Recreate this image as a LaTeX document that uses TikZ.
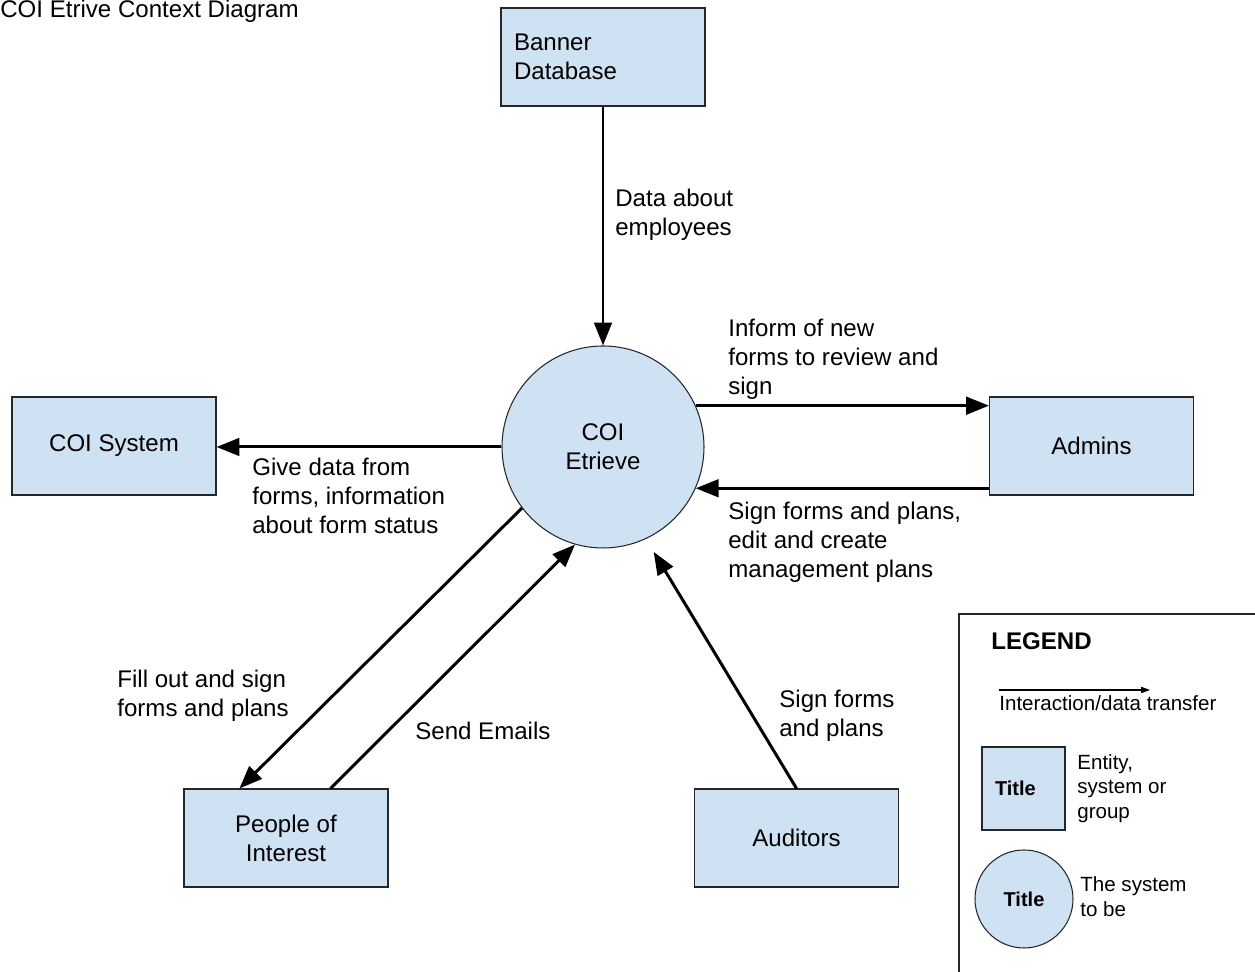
\documentclass[tikz,border=0pt]{standalone}
\usepackage{fontspec}
\setmainfont{Liberation Sans}
\usetikzlibrary{arrows.meta,calc}

\definecolor{boxblue}{HTML}{CFE2F3}

\begin{document}
\begin{tikzpicture}[>={Triangle[length=13pt,width=10pt]},
    font=\fontsize{13.7}{16.5}\selectfont,
    ent/.style={draw=black!85, line width=0.6pt, fill=boxblue, minimum width=4.08cm, minimum height=1.96cm, align=center},
    sys/.style={circle, draw=black!85, line width=0.6pt, fill=boxblue, minimum size=4.04cm, align=center, inner sep=0pt},
    flow/.style={->, line width=1.7pt},
    lbl/.style={anchor=west, align=left, inner sep=0pt},
    legtext/.style={lbl, font=\fontsize{11.7}{14}\selectfont}]
    \useasboundingbox (0, 0) rectangle (25.1, 19.44);

    % 标题
    \node[anchor=base west, inner sep=0pt] (title) at (0, 19.08) {COI Etrive Context Diagram};

    % 系统及外部实体
    \node[sys] (ce) at (12.06, 10.50) {COI\\Etrieve};
    \node[ent, text width=3.56cm, inner xsep=0.26cm, align=left] (bd) at (12.06, 18.30) {Banner\\Database};
    \node[ent] (cs) at (2.28, 10.52) {COI System};
    \node[ent] (ad) at (21.83, 10.52) {Admins};
    \node[ent] (pi) at (5.72, 2.68) {People of\\Interest};
    \node[ent] (au) at (15.93, 2.68) {Auditors};

    % 数据流
    \draw[flow] (bd.south) -- (ce.north);
    \draw[flow] (ce.24.6) -- (ce.24.6 -| ad.west);
    \draw[flow] (ad.west |- ce.-24) -- (ce.-24);
    \draw[flow] (ce.west) -- (ce.west -| cs.east);
    \draw[flow] (ce.217) -- ([xshift=1.12cm]pi.north west);
    \draw[flow] ([xshift=2.94cm]pi.north west) -- (ce.254);
    \draw[flow, shorten >=0.3cm] (au.north) -- (ce.295);

    % 数据流说明
    \node[lbl] (l1) at (12.30, 15.15) {Data about\\employees};
    \node[lbl] (l2) at (14.56, 12.25) {Inform of new\\forms to review and\\sign};
    \node[lbl] (l3) at (14.56, 8.60) {Sign forms and plans,\\edit and create\\management plans};
    \node[lbl] (l4) at (5.04, 9.52) {Give data from\\forms, information\\about form status};
    \node[lbl] (l5) at (2.34, 5.53) {Fill out and sign\\forms and plans};
    \node[lbl] (l6) at (8.30, 4.82) {Send Emails};
    \node[lbl] (l7) at (15.58, 5.13) {Sign forms\\and plans};

    % 图例
    \draw[line width=0.6pt, black!85] (19.18, 0) |- (25.1, 7.16);
    \node[lbl, font=\fontsize{13.7}{16.5}\selectfont\bfseries] (leg) at (19.82, 6.62) {LEGEND};
    \coordinate (la1) at (19.98, 5.64);
    \coordinate (la2) at (23.00, 5.64);
    \draw[-{Triangle[length=5pt,width=3.5pt]}, line width=0.6pt] (la1) -- (la2);
    \node[legtext] (lt1) at (19.98, 5.38) {Interaction/data transfer};
    \node[ent, minimum width=1.66cm, minimum height=1.66cm, text width=1.14cm, inner xsep=0.26cm, align=left, font=\fontsize{11.4}{14}\selectfont\bfseries] (lbox) at (20.47, 3.67) {Title};
    \node[legtext] (lt2) at (21.54, 3.67) {Entity,\\system or\\group};
    \node[sys, minimum size=1.96cm, font=\fontsize{11.4}{14}\selectfont\bfseries] (lcir) at (20.48, 1.46) {Title};
    \node[legtext] (lt3) at (21.60, 1.51) {The system\\to be};
\end{tikzpicture}
\end{document}
